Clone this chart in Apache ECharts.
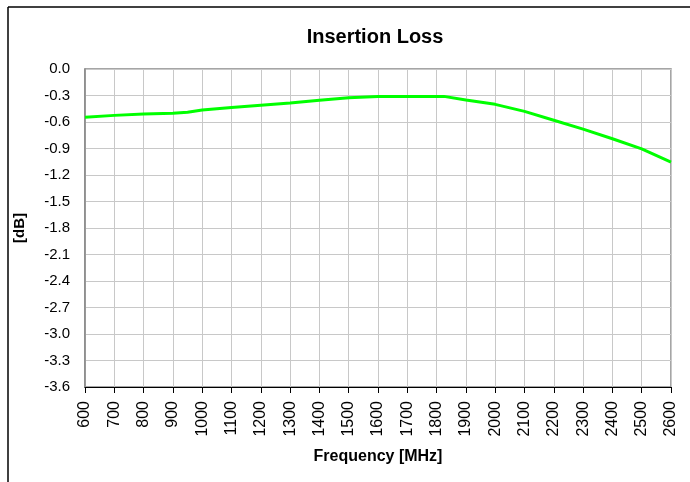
<!DOCTYPE html>
<html>
<head>
<meta charset="utf-8">
<script src="https://cdn.jsdelivr.net/npm/echarts@6/dist/echarts.min.js"></script>
<style>
html,body{margin:0;padding:0;background:#fff;}
#chart{width:690px;height:482px;}
</style>
</head>
<body>
<div id="chart"></div>
<script>
var title = "Insertion Loss";
var xName = "Frequency [MHz]";
var yName = "[dB]";
var frequencies = [600, 700, 800, 900, 950, 1000, 1100, 1200, 1300, 1400, 1500, 1600, 1700, 1800, 1825, 1900, 2000, 2100, 2200, 2300, 2400, 2500, 2600];
var insertionLoss = [-0.545, -0.525, -0.51, -0.50, -0.49, -0.465, -0.435, -0.41, -0.385, -0.355, -0.325, -0.31, -0.31, -0.31, -0.31, -0.35, -0.40, -0.48, -0.58, -0.68, -0.79, -0.905, -1.055];
var xMin = 600, xMax = 2600, xStep = 100;
var yMin = -3.6, yMax = 0, yStep = 0.3;

var points = frequencies.map(function (f, i) { return [f, insertionLoss[i]]; });
var font = 'Liberation Sans, Arial, sans-serif';

var chart = echarts.init(document.getElementById('chart'));
chart.setOption({
  animation: false,
  backgroundColor: '#fff',
  title: {
    text: title, left: 370, top: 22, textAlign: 'center',
    textStyle: { fontFamily: font, fontSize: 20, fontWeight: 'bold', color: '#000' }
  },
  graphic: [
    { type: 'line', shape: { x1: 8, y1: 7, x2: 690, y2: 7 }, style: { stroke: '#000', lineWidth: 1.5 } },
    { type: 'line', shape: { x1: 8, y1: 7, x2: 8, y2: 482 }, style: { stroke: '#000', lineWidth: 1.5 } }
  ],
  grid: { left: 85, right: 19, top: 69, bottom: 95, show: true, borderColor: '#888', borderWidth: 1.5, backgroundColor: '#fff' },
  xAxis: {
    type: 'value', min: xMin, max: xMax, interval: xStep,
    name: xName, nameLocation: 'middle', nameGap: 62,
    nameTextStyle: { fontFamily: font, fontSize: 16, fontWeight: 'bold', color: '#000' },
    axisLine: { show: true, onZero: false, lineStyle: { color: '#000', width: 1 } },
    axisTick: { show: true, length: 6, lineStyle: { color: '#000' } },
    axisLabel: { rotate: 90, margin: 14, fontFamily: font, fontSize: 16, color: '#000',
      formatter: function (v) { return String(v); } },
    splitLine: { show: true, lineStyle: { color: '#c8c8c8', width: 1 } }
  },
  yAxis: {
    type: 'value', min: yMin, max: yMax, interval: yStep,
    name: yName, nameLocation: 'middle', nameGap: 58, nameRotate: 90,
    nameTextStyle: { fontFamily: font, fontSize: 15, fontWeight: 'bold', color: '#000' },
    axisLine: { show: true, onZero: false, lineStyle: { color: '#888', width: 1.5 } },
    axisTick: { show: false },
    axisLabel: { margin: 15, fontFamily: font, fontSize: 15, color: '#000',
      formatter: function (v) { return v.toFixed(1); } },
    splitLine: { show: true, lineStyle: { color: '#c8c8c8', width: 1 } }
  },
  series: [{
    type: 'line', data: points, showSymbol: false, smooth: false,
    lineStyle: { color: '#00ff00', width: 3 },
    itemStyle: { color: '#00ff00' }
  }]
});
</script>
</body>
</html>
